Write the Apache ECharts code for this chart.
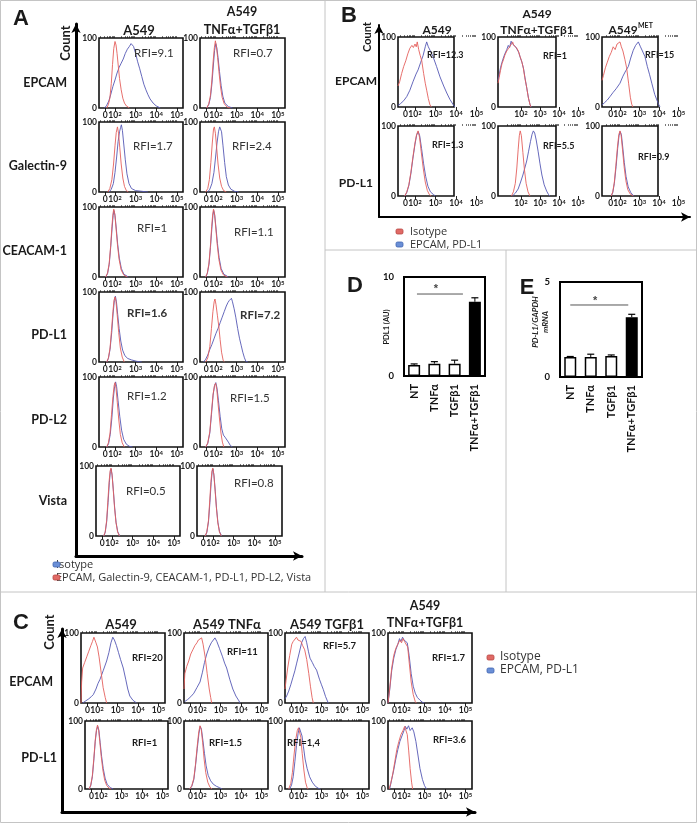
<!DOCTYPE html>
<html><head><meta charset="utf-8">
<script src="https://cdn.jsdelivr.net/npm/echarts@6/dist/echarts.min.js"></script>
<style>html,body{margin:0;padding:0;background:#fff}#c{width:697px;height:823px}</style>
</head><body><div id="c"></div>
<script>
// ---------------- DATA ----------------
const histTickLabels = ['0','10{s|2}','10{s|3}','10{s|4}','10{s|5}'];
const histTickValues = [1.53, 2, 3, 4, 5];
const countTickValues = [0, 100];

// Panel A (x in log-decade units, y = % of max count)
const a_epcam_a549_iso = [[1.6,0],[1.68,5],[1.75,14],[1.82,35],[1.88,62],[1.94,85],[2.0,95],[2.05,90],[2.1,78],[2.16,60],[2.22,42],[2.3,26],[2.38,14],[2.46,7],[2.55,3],[2.7,0]];
const a_epcam_a549_ab = [[1.5,0],[1.6,4],[1.7,10],[1.8,20],[1.9,31],[2.0,40],[2.1,50],[2.2,58],[2.3,64],[2.4,70],[2.5,78],[2.6,84],[2.7,88],[2.78,92],[2.84,94],[2.9,88],[3.0,78],[3.1,66],[3.2,56],[3.3,45],[3.4,34],[3.5,26],[3.6,19],[3.7,13],[3.85,7],[4.0,3],[4.2,0]];
const a_epcam_tt_iso = [[1.55,0],[1.65,6],[1.73,18],[1.8,40],[1.86,66],[1.92,86],[1.97,96],[2.02,88],[2.08,72],[2.15,50],[2.22,30],[2.3,15],[2.4,6],[2.55,1],[2.7,0]];
const a_epcam_tt_ab = [[1.55,0],[1.65,5],[1.73,15],[1.8,34],[1.87,60],[1.93,82],[1.99,92],[2.04,86],[2.1,72],[2.17,52],[2.25,32],[2.33,17],[2.43,7],[2.6,2],[2.8,0]];
const a_gal9_a549_iso = [[1.65,0],[1.75,5],[1.85,18],[1.93,40],[2.0,66],[2.06,85],[2.12,93],[2.17,84],[2.23,64],[2.3,40],[2.38,20],[2.46,8],[2.55,2],[2.65,0]];
const a_gal9_a549_ab = [[1.72,0],[1.82,4],[1.92,12],[2.0,28],[2.08,50],[2.15,72],[2.22,86],[2.27,92],[2.31,96],[2.36,88],[2.42,70],[2.5,46],[2.58,26],[2.68,12],[2.8,5],[3.0,2],[3.3,1],[3.6,0]];
const a_gal9_tt_iso = [[1.5,0],[1.6,5],[1.68,18],[1.75,42],[1.82,70],[1.88,90],[1.92,93],[1.97,84],[2.03,64],[2.1,40],[2.18,20],[2.27,8],[2.37,2],[2.5,0]];
const a_gal9_tt_ab = [[1.6,0],[1.7,4],[1.8,12],[1.9,28],[1.98,50],[2.05,70],[2.12,86],[2.18,93],[2.22,95],[2.27,86],[2.34,66],[2.42,42],[2.5,22],[2.6,10],[2.72,4],[2.9,1],[3.1,0]];
const a_ceacam_a549_iso = [[1.55,0],[1.64,6],[1.72,20],[1.79,45],[1.85,72],[1.9,90],[1.94,97],[1.99,90],[2.05,70],[2.12,46],[2.2,25],[2.3,10],[2.42,3],[2.6,0]];
const a_ceacam_a549_ab = [[1.55,0],[1.64,5],[1.72,18],[1.79,42],[1.86,70],[1.91,88],[1.95,95],[2.0,88],[2.06,70],[2.13,47],[2.21,27],[2.31,12],[2.43,4],[2.65,0]];
const a_ceacam_tt_iso = [[1.5,0],[1.58,6],[1.66,20],[1.73,45],[1.79,72],[1.84,90],[1.88,97],[1.93,90],[1.99,70],[2.06,46],[2.14,25],[2.24,10],[2.36,3],[2.55,0]];
const a_ceacam_tt_ab = [[1.5,0],[1.58,5],[1.66,18],[1.73,42],[1.8,70],[1.85,88],[1.89,95],[1.94,88],[2.0,70],[2.07,48],[2.15,28],[2.25,12],[2.38,4],[2.6,0]];
const a_pdl1_a549_iso = [[1.6,0],[1.68,6],[1.76,20],[1.83,45],[1.9,72],[1.95,88],[2.0,93],[2.05,86],[2.11,66],[2.18,42],[2.26,20],[2.35,7],[2.45,0]];
const a_pdl1_a549_ab = [[1.6,0],[1.68,5],[1.76,18],[1.84,42],[1.91,70],[1.97,88],[2.02,94],[2.07,86],[2.13,68],[2.2,48],[2.28,30],[2.37,17],[2.48,9],[2.62,5],[2.8,3],[3.05,1],[3.3,0]];
const a_pdl1_tt_iso = [[1.5,0],[1.6,6],[1.7,22],[1.78,48],[1.85,72],[1.91,86],[1.95,90],[2.0,82],[2.07,66],[2.14,50],[2.2,32],[2.27,14],[2.35,2],[2.42,0]];
const a_pdl1_tt_ab = [[1.4,0],[1.5,4],[1.6,10],[1.7,18],[1.8,25],[1.9,33],[2.0,41],[2.1,48],[2.2,56],[2.3,64],[2.4,72],[2.5,80],[2.58,85],[2.65,88],[2.7,90],[2.75,91],[2.8,86],[2.88,76],[2.96,64],[3.05,48],[3.14,34],[3.22,24],[3.3,14],[3.38,6],[3.45,1],[3.55,0]];
const a_pdl2_a549_iso = [[1.6,0],[1.68,6],[1.76,20],[1.83,46],[1.9,72],[1.96,88],[2.0,92],[2.05,84],[2.11,64],[2.18,40],[2.26,18],[2.35,6],[2.45,0]];
const a_pdl2_a549_ab = [[1.6,0],[1.69,5],[1.77,18],[1.85,42],[1.92,70],[1.98,86],[2.03,93],[2.08,86],[2.15,66],[2.23,44],[2.32,24],[2.42,11],[2.55,4],[2.7,1],[2.85,0]];
const a_pdl2_tt_iso = [[1.5,0],[1.6,6],[1.7,22],[1.78,50],[1.86,76],[1.93,88],[1.98,91],[2.04,82],[2.1,62],[2.17,40],[2.24,20],[2.31,7],[2.38,0]];
const a_pdl2_tt_ab = [[1.5,0],[1.6,5],[1.7,20],[1.78,46],[1.86,74],[1.93,88],[1.99,92],[2.05,84],[2.12,66],[2.2,44],[2.28,26],[2.36,17],[2.44,14],[2.52,12],[2.6,7],[2.7,2],[2.8,0]];
const a_vista_a549_iso = [[1.6,0],[1.67,6],[1.74,22],[1.8,50],[1.86,78],[1.91,93],[1.95,97],[2.0,88],[2.06,66],[2.12,42],[2.19,20],[2.27,6],[2.36,0]];
const a_vista_a549_ab = [[1.6,0],[1.67,5],[1.74,20],[1.81,48],[1.87,76],[1.92,92],[1.96,96],[2.01,86],[2.07,64],[2.13,40],[2.2,19],[2.28,6],[2.38,0]];
const a_vista_tt_iso = [[1.62,0],[1.7,6],[1.78,22],[1.84,50],[1.9,78],[1.95,93],[1.99,97],[2.04,88],[2.1,66],[2.16,42],[2.23,20],[2.31,6],[2.4,0]];
const a_vista_tt_ab = [[1.62,0],[1.7,5],[1.78,20],[1.85,48],[1.91,76],[1.96,92],[2.0,96],[2.05,86],[2.11,64],[2.17,40],[2.24,19],[2.32,6],[2.42,0]];

// Panel B
const b_epcam_a549_iso = [[1.17,30],[1.25,36],[1.35,48],[1.45,58],[1.55,66],[1.65,76],[1.75,84],[1.85,88],[1.92,85],[2.0,90],[2.06,86],[2.11,93],[2.18,82],[2.25,74],[2.33,66],[2.42,48],[2.5,34],[2.57,24],[2.65,12],[2.73,3],[2.8,0]];
const b_epcam_a549_ab = [[1.17,2],[1.3,5],[1.45,9],[1.6,15],[1.75,24],[1.9,36],[2.05,47],[2.15,53],[2.28,64],[2.4,74],[2.5,86],[2.57,93],[2.65,86],[2.75,80],[2.88,72],[3.05,58],[3.22,43],[3.4,30],[3.55,20],[3.7,11],[3.87,3],[3.95,0]];
const b_epcam_tt_iso = [[0.79,34],[0.85,42],[0.92,52],[1.0,62],[1.07,67],[1.15,74],[1.25,80],[1.35,84],[1.42,86],[1.5,90],[1.56,93],[1.62,88],[1.7,86],[1.78,84],[1.86,80],[1.95,72],[2.03,66],[2.12,56],[2.2,42],[2.3,28],[2.38,14],[2.47,4],[2.52,0]];
const b_epcam_tt_ab = [[0.79,38],[0.85,46],[0.92,56],[1.0,64],[1.07,70],[1.15,76],[1.25,82],[1.33,88],[1.4,85],[1.48,94],[1.55,90],[1.63,92],[1.72,86],[1.8,82],[1.88,78],[1.97,70],[2.05,64],[2.14,54],[2.22,40],[2.31,26],[2.4,12],[2.48,3],[2.55,0]];
const b_epcam_met_iso = [[1.08,38],[1.15,45],[1.25,56],[1.35,64],[1.45,72],[1.55,78],[1.65,86],[1.75,82],[1.85,90],[1.93,92],[2.0,93],[2.07,86],[2.15,80],[2.25,68],[2.34,56],[2.44,34],[2.53,14],[2.6,4],[2.66,0]];
const b_epcam_met_ab = [[1.08,3],[1.2,6],[1.35,10],[1.49,15],[1.65,21],[1.8,26],[2.0,34],[2.15,44],[2.3,52],[2.43,58],[2.55,70],[2.68,81],[2.8,88],[2.94,93],[3.05,86],[3.15,80],[3.28,72],[3.4,58],[3.52,46],[3.63,34],[3.78,18],[3.96,5],[4.05,0]];
const b_pdl1_a549_iso = [[1.5,0],[1.6,6],[1.7,16],[1.8,34],[1.9,56],[2.0,76],[2.08,88],[2.15,93],[2.22,84],[2.3,64],[2.4,40],[2.5,20],[2.6,8],[2.7,2],[2.8,0]];
const b_pdl1_a549_ab = [[1.5,0],[1.6,5],[1.7,15],[1.8,32],[1.9,54],[2.0,74],[2.08,87],[2.16,92],[2.23,86],[2.32,68],[2.42,46],[2.52,28],[2.63,14],[2.75,6],[2.9,2],[3.0,0]];
const b_pdl1_tt_iso = [[1.5,0],[1.6,6],[1.7,18],[1.78,40],[1.85,66],[1.91,86],[1.96,93],[2.02,86],[2.1,62],[2.18,38],[2.27,18],[2.37,6],[2.47,0]];
const b_pdl1_tt_ab = [[1.55,0],[1.7,4],[1.85,10],[1.98,20],[2.1,30],[2.2,40],[2.3,50],[2.4,64],[2.5,78],[2.58,88],[2.65,93],[2.72,90],[2.8,80],[2.9,64],[3.0,46],[3.1,30],[3.22,16],[3.35,7],[3.45,2],[3.53,0]];
const b_pdl1_met_iso = [[1.55,0],[1.63,6],[1.71,20],[1.79,44],[1.87,70],[1.94,88],[2.0,93],[2.06,86],[2.13,66],[2.21,42],[2.3,22],[2.4,9],[2.52,3],[2.68,0]];
const b_pdl1_met_ab = [[1.55,0],[1.63,5],[1.71,18],[1.8,42],[1.88,68],[1.95,86],[2.01,92],[2.07,88],[2.14,70],[2.22,48],[2.31,28],[2.42,13],[2.55,5],[2.7,0]];

// Panel C
const c_epcam_a549_iso = [[1.22,0],[1.25,30],[1.3,50],[1.4,58],[1.5,66],[1.6,74],[1.7,82],[1.78,88],[1.85,94],[1.9,90],[1.95,86],[2.02,80],[2.1,66],[2.2,44],[2.3,22],[2.4,8],[2.47,0]];
const c_epcam_a549_ab = [[1.3,0],[1.45,3],[1.6,6],[1.72,9],[1.82,12],[1.95,20],[2.05,28],[2.15,34],[2.3,46],[2.47,60],[2.58,72],[2.68,86],[2.77,94],[2.85,90],[2.95,82],[3.05,72],[3.15,62],[3.28,50],[3.4,34],[3.5,20],[3.6,10],[3.75,4],[3.93,0]];
const c_epcam_tnf_iso = [[1.22,20],[1.26,42],[1.35,52],[1.45,60],[1.55,70],[1.65,76],[1.75,82],[1.85,86],[1.92,90],[2.0,88],[2.08,93],[2.15,84],[2.25,66],[2.35,42],[2.45,20],[2.52,8],[2.57,0]];
const c_epcam_tnf_ab = [[1.25,2],[1.4,5],[1.55,9],[1.7,14],[1.85,22],[2.0,30],[2.12,44],[2.22,58],[2.33,70],[2.45,80],[2.55,86],[2.65,90],[2.73,93],[2.82,88],[2.95,78],[3.1,66],[3.2,57],[3.3,50],[3.45,34],[3.6,20],[3.75,10],[3.9,3],[3.95,0]];
const c_epcam_tgf_iso = [[1.22,20],[1.27,32],[1.35,50],[1.45,68],[1.55,84],[1.62,88],[1.7,86],[1.78,94],[1.85,90],[1.93,92],[2.0,88],[2.08,82],[2.18,76],[2.28,62],[2.38,42],[2.46,24],[2.54,8],[2.6,0]];
const c_epcam_tgf_ab = [[1.22,6],[1.3,10],[1.4,17],[1.5,26],[1.6,36],[1.7,46],[1.79,57],[1.9,70],[2.03,86],[2.12,92],[2.2,95],[2.28,86],[2.36,74],[2.44,64],[2.55,58],[2.65,52],[2.76,47],[2.9,34],[3.0,26],[3.09,19],[3.2,9],[3.33,0]];
const c_epcam_tt_iso = [[1.22,0],[1.3,20],[1.4,50],[1.5,68],[1.6,78],[1.7,84],[1.8,90],[1.88,86],[1.95,92],[2.02,88],[2.1,90],[2.18,80],[2.26,56],[2.35,30],[2.45,12],[2.55,2],[2.6,0]];
const c_epcam_tt_ab = [[1.22,0],[1.3,18],[1.4,46],[1.5,64],[1.6,76],[1.7,84],[1.78,92],[1.85,88],[1.93,94],[2.0,90],[2.08,92],[2.16,86],[2.25,68],[2.35,42],[2.45,24],[2.55,14],[2.65,8],[2.78,4],[2.9,1],[3.0,0]];
const c_pdl1_a549_iso = [[1.42,0],[1.5,6],[1.58,20],[1.65,45],[1.72,72],[1.78,88],[1.83,94],[1.88,88],[1.94,70],[2.01,48],[2.09,28],[2.18,13],[2.28,5],[2.4,1],[2.5,0]];
const c_pdl1_a549_ab = [[1.42,0],[1.5,5],[1.58,18],[1.65,42],[1.72,70],[1.78,86],[1.84,92],[1.9,86],[1.96,68],[2.03,48],[2.11,30],[2.2,16],[2.3,7],[2.45,2],[2.6,0]];
const c_pdl1_tnf_iso = [[1.5,0],[1.6,5],[1.7,16],[1.78,36],[1.86,62],[1.94,84],[2.0,93],[2.06,88],[2.13,68],[2.2,44],[2.28,24],[2.38,10],[2.48,3],[2.58,0]];
const c_pdl1_tnf_ab = [[1.5,0],[1.6,4],[1.7,14],[1.78,34],[1.87,60],[1.95,82],[2.01,92],[2.07,88],[2.14,72],[2.22,52],[2.3,34],[2.4,20],[2.52,12],[2.65,7],[2.8,4],[2.95,2],[3.07,0]];
const c_pdl1_tgf_iso = [[1.4,0],[1.5,8],[1.58,24],[1.66,50],[1.74,72],[1.82,86],[1.88,90],[1.93,88],[1.99,76],[2.06,52],[2.14,28],[2.22,10],[2.3,2],[2.35,0]];
const c_pdl1_tgf_ab = [[1.45,0],[1.54,6],[1.62,18],[1.7,40],[1.78,64],[1.86,82],[1.92,90],[1.98,88],[2.05,78],[2.12,62],[2.2,44],[2.3,30],[2.42,18],[2.55,10],[2.7,4],[2.85,1],[2.95,0]];
const c_pdl1_tt_iso = [[1.27,0],[1.35,8],[1.45,22],[1.55,40],[1.65,58],[1.75,70],[1.85,80],[1.95,86],[2.03,92],[2.1,94],[2.16,80],[2.23,56],[2.3,30],[2.37,10],[2.42,0]];
const c_pdl1_tt_ab = [[1.3,0],[1.4,14],[1.5,28],[1.6,44],[1.7,58],[1.8,70],[1.9,78],[2.0,86],[2.07,92],[2.14,88],[2.22,93],[2.3,86],[2.4,90],[2.48,84],[2.58,70],[2.68,50],[2.78,30],[2.9,14],[3.0,5],[3.1,0]];

// Bar charts D and E
const barCats = ['NT', 'TNFα', 'TGFβ1', 'TNFα+TGFβ1'];
const barPos = [0, 1, 2, 3];
const d_values = [1.1, 1.25, 1.25, 7.5];
const d_err = [0.12, 0.2, 0.35, 0.4];
const e_values = [1.05, 1.05, 1.1, 3.15];
const e_err = [0.03, 0.15, 0.06, 0.15];
const d_sig = [[0.14, 8.28], [2.41, 8.28]];
const e_sig = [[0.0, 3.79], [2.83, 3.79]];
const d_star = [[1.08, 8.75]];
const e_star = [[1.21, 3.98]];

// ---------------- STYLE / LAYOUT ----------------
const FONT = 'Lato, "Open Sans", sans-serif';
const RED = '#e4605c', BLUE = '#5558b4';
const grids = [], xAxes = [], yAxes = [], series = [], G = [];
function addGrid(g){ grids.push(g); return grids.length - 1; }
const minorTicks = [];
[1,2,3,4].forEach(d => { for (let k = 2; k <= 9; k++) minorTicks.push(d + Math.log10(k)); });
function labelFor(v){ const i = histTickValues.findIndex(t => Math.abs(t - v) < 1e-6); return i >= 0 ? histTickLabels[i] : ''; }
const tickRich = {s: {fontSize: 6, fontWeight: 'bold', fontFamily: FONT, color: '#222', verticalAlign: 'top', padding: [0, 0, 3, 0]}};

function histPanel(f, p2, dec, iso, ab){
  const [L, T, W, H] = f;
  const fg = addGrid({left: L, top: T, width: W, height: H, show: true, borderColor: '#111', borderWidth: 1.6, z: 3});
  xAxes.push({gridIndex: fg, show: false, min: 0, max: 1});
  yAxes.push({gridIndex: fg, show: false, min: 0, max: 1});
  const aw = Math.max(W, p2 + 3 * dec + 7);
  const ag = addGrid({left: L, top: T, width: aw, height: H});
  const xmin = 2 - p2 / dec, xmax = xmin + aw / dec;
  const xi = xAxes.length;
  xAxes.push({gridIndex: ag, type: 'value', min: xmin, max: xmax, axisLine: {show: false}, splitLine: {show: false},
    axisTick: {customValues: histTickValues, length: 3, lineStyle: {color: '#222', width: 1}},
    axisLabel: {customValues: histTickValues, formatter: labelFor, rich: tickRich, fontSize: 8.5, fontWeight: 'bold', fontFamily: FONT, color: '#222', margin: 3}});
  xAxes.push({gridIndex: ag, type: 'value', min: xmin, max: xmax, axisLine: {show: false}, splitLine: {show: false},
    axisTick: {customValues: minorTicks, length: 2, lineStyle: {color: '#555', width: 0.8}}, axisLabel: {show: false}});
  const yi = yAxes.length;
  yAxes.push({gridIndex: ag, type: 'value', min: 0, max: 100, axisLine: {show: false}, splitLine: {show: false}, axisTick: {show: false},
    axisLabel: {customValues: countTickValues, fontSize: 8.5, fontWeight: 'bold', fontFamily: FONT, color: '#222', margin: 2}});
  series.push({type: 'line', xAxisIndex: xi, yAxisIndex: yi, data: ab, showSymbol: false, silent: true, lineStyle: {color: BLUE, width: 0.9}, z: 4});
  series.push({type: 'line', xAxisIndex: xi, yAxisIndex: yi, data: iso, showSymbol: false, silent: true, lineStyle: {color: RED, width: 0.9}, z: 4});
}

function arrowFrame(L, T, W, H, lw){
  const g = addGrid({left: L, top: T, width: W, height: H});
  const ax = {gridIndex: g, type: 'value', min: 0, max: 1, axisTick: {show: false}, axisLabel: {show: false}, splitLine: {show: false},
    axisLine: {show: true, onZero: false, symbol: ['none', 'arrow'], symbolSize: [7, 9], lineStyle: {color: '#000', width: lw}}};
  xAxes.push(Object.assign({}, ax)); yAxes.push(Object.assign({}, ax));
}

function T(x, y, text, o){
  o = o || {};
  G.push({type: 'text', x: x, y: y, rotation: o.rot || 0, z: 100,
    style: {text: text, fill: o.color || '#1a1a1a', fontSize: o.s || 12, fontWeight: o.w || 'bold', fontStyle: o.it ? 'italic' : 'normal',
      fontFamily: o.f || FONT, align: o.a || 'center', verticalAlign: 'middle', lineHeight: o.lh || undefined}});
}
function Ln(x1, y1, x2, y2, c, w){ G.push({type: 'line', z: 1, shape: {x1, y1, x2, y2}, style: {stroke: c, lineWidth: w}}); }
function Mk(x, y, fill, stroke){ G.push({type: 'rect', z: 101, shape: {x: x, y: y, width: 7, height: 5, r: 1.5}, style: {fill: fill, stroke: stroke, lineWidth: 0.8}}); }

// ---- Panel A ----
const aRows = [38, 122, 207, 292, 377, 466];
const aData = [
  [a_epcam_a549_iso, a_epcam_a549_ab, a_epcam_tt_iso, a_epcam_tt_ab],
  [a_gal9_a549_iso, a_gal9_a549_ab, a_gal9_tt_iso, a_gal9_tt_ab],
  [a_ceacam_a549_iso, a_ceacam_a549_ab, a_ceacam_tt_iso, a_ceacam_tt_ab],
  [a_pdl1_a549_iso, a_pdl1_a549_ab, a_pdl1_tt_iso, a_pdl1_tt_ab],
  [a_pdl2_a549_iso, a_pdl2_a549_ab, a_pdl2_tt_iso, a_pdl2_tt_ab],
  [a_vista_a549_iso, a_vista_a549_ab, a_vista_tt_iso, a_vista_tt_ab]
];
aRows.forEach((top, r) => {
  const l1 = r === 5 ? 96 : 99, l2 = r === 5 ? 197 : 200;
  histPanel([l1, top, 84, 70], 16, 20.6, aData[r][0], aData[r][1]);
  histPanel([l2, top, 85, 70], 16, 20.6, aData[r][2], aData[r][3]);
});
arrowFrame(76, 24, 226, 532, 3);

// ---- Panel B ----
const bCols = [[398, 56, 17, 20.5], [498, 58, 23, 19], [602, 56, 18, 19.5]];
const bData = [
  [b_epcam_a549_iso, b_epcam_a549_ab, b_epcam_tt_iso, b_epcam_tt_ab, b_epcam_met_iso, b_epcam_met_ab],
  [b_pdl1_a549_iso, b_pdl1_a549_ab, b_pdl1_tt_iso, b_pdl1_tt_ab, b_pdl1_met_iso, b_pdl1_met_ab]
];
[37, 126].forEach((top, r) => {
  bCols.forEach((c, k) => histPanel([c[0], top, c[1], 70], c[2], c[3], bData[r][2*k], bData[r][2*k+1]));
});
arrowFrame(379, 25, 311, 192, 2);

// ---- Panel C ----
const cData = [
  [c_epcam_a549_iso, c_epcam_a549_ab, c_epcam_tnf_iso, c_epcam_tnf_ab, c_epcam_tgf_iso, c_epcam_tgf_ab, c_epcam_tt_iso, c_epcam_tt_ab],
  [c_pdl1_a549_iso, c_pdl1_a549_ab, c_pdl1_tnf_iso, c_pdl1_tnf_ab, c_pdl1_tgf_iso, c_pdl1_tgf_ab, c_pdl1_tt_iso, c_pdl1_tt_ab]
];
const cLeft = [[81, 184, 285, 388], [85, 184, 285, 388]];
[[633, 70], [721, 68]].forEach((rt, r) => {
  cLeft[r].forEach((l, k) => histPanel([l, rt[0], r === 1 && k === 0 ? 83 : 84, rt[1]], 16, 20.5, cData[r][2*k], cData[r][2*k+1]));
});
arrowFrame(62, 629, 413, 183, 3);

// ---- Bar charts D / E ----
function barPanel(box, ymax, vals, errs, sig, star, cats){
  const g = addGrid({left: box[0], top: box[1], width: box[2], height: box[3], show: true, borderColor: '#000', borderWidth: 2, z: 3});
  const xi = xAxes.length, yi = yAxes.length;
  xAxes.push({gridIndex: g, type: 'value', min: -0.5, max: 3.5, axisLine: {show: false}, axisTick: {show: false}, splitLine: {show: false},
    axisLabel: {customValues: barPos, formatter: v => cats[Math.round(v)], rotate: 90, fontSize: 11, fontWeight: 'bold', fontFamily: FONT, color: '#111', margin: 8}});
  yAxes.push({gridIndex: g, type: 'value', min: 0, max: ymax, axisLine: {show: false}, axisTick: {show: false}, splitLine: {show: false},
    axisLabel: {customValues: [0, ymax], fontSize: 9.5, fontWeight: 'bold', fontFamily: FONT, color: '#111', margin: 10}});
  series.push({type: 'bar', xAxisIndex: xi, yAxisIndex: yi, barWidth: 12, silent: true,
    data: vals.map((v, i) => ({value: [barPos[i], v], itemStyle: {color: i === 3 ? '#000' : '#fff', borderColor: '#000', borderWidth: 1.5}}))});
  series.push({type: 'custom', xAxisIndex: xi, yAxisIndex: yi, silent: true, z: 5,
    data: vals.map((v, i) => [barPos[i], v, v + errs[i]]),
    renderItem: (params, api) => {
      const a = api.coord([api.value(0), api.value(1)]), b = api.coord([api.value(0), api.value(2)]);
      return {type: 'group', children: [
        {type: 'line', shape: {x1: a[0], y1: a[1], x2: b[0], y2: b[1]}, style: {stroke: '#000', lineWidth: 1}},
        {type: 'line', shape: {x1: b[0] - 3.5, y1: b[1], x2: b[0] + 3.5, y2: b[1]}, style: {stroke: '#000', lineWidth: 1.2}}]};
    }});
  series.push({type: 'line', xAxisIndex: xi, yAxisIndex: yi, data: sig, showSymbol: false, silent: true, lineStyle: {color: '#555', width: 1}});
  series.push({type: 'scatter', xAxisIndex: xi, yAxisIndex: yi, data: star, symbolSize: 2, silent: true, z: 6,
    itemStyle: {color: 'rgba(0,0,0,0)'},
    label: {show: true, position: 'inside', formatter: '*', fontSize: 11, fontWeight: 'bold', color: '#111'}});
}
barPanel([404, 277, 81, 99], 10, d_values, d_err, d_sig, d_star, barCats);
barPanel([560, 282, 82, 95], 5, e_values, e_err, e_sig, e_star, barCats);

// ---------------- TEXT / DECORATION ----------------
G.push({type: 'rect', z: 0, shape: {x: 0.5, y: 0.5, width: 696, height: 822}, style: {fill: 'none', stroke: '#c4c4c4', lineWidth: 1}});
Ln(325, 0, 325, 592, '#c4c4c4', 1);
Ln(0, 592, 697, 592, '#c4c4c4', 1);
Ln(325, 250, 697, 250, '#c4c4c4', 1);
Ln(506, 250, 506, 592, '#c4c4c4', 1);

T(21, 19, 'A', {s: 22, f: '"Liberation Sans", Arial, sans-serif'});
T(349, 16, 'B', {s: 22, f: '"Liberation Sans", Arial, sans-serif'});
T(21, 623, 'C', {s: 22, f: '"Liberation Sans", Arial, sans-serif'});
T(355, 286, 'D', {s: 22, f: '"Liberation Sans", Arial, sans-serif'});
T(527, 288, 'E', {s: 22, f: '"Liberation Sans", Arial, sans-serif'});

// Panel A text
T(66, 43, 'Count', {s: 13, rot: Math.PI / 2});
T(139, 31, 'A549', {s: 13});
T(242, 12, 'A549', {s: 12.5});
T(242, 30, 'TNFα+TGFβ1', {s: 12.5});
[['EPCAM', 83], ['Galectin-9', 166], ['CEACAM-1', 251], ['PD-L1', 335], ['PD-L2', 420], ['Vista', 501]].forEach(r => T(67, r[1], r[0], {s: 12.5, a: 'right'}));
[['RFI=9.1', 134, 53, 0], ['RFI=0.7', 233, 53, 0], ['RFI=1.7', 133, 146, 0], ['RFI=2.4', 232, 146, 0],
 ['RFI=1', 137, 228, 0], ['RFI=1.1', 234, 232, 0], ['RFI=1.6', 127, 313, 1], ['RFI=7.2', 240, 315, 1],
 ['RFI=1.2', 127, 396, 0], ['RFI=1.5', 230, 398, 0], ['RFI=0.5', 126, 491, 0], ['RFI=0.8', 234, 483, 0]]
 .forEach(r => T(r[1], r[2], r[0], {s: 11.5, a: 'left', w: r[3] ? 'bold' : 'normal', color: '#333'}));
T(56, 565, 'Isotype', {s: 11, a: 'left', w: 'normal', color: '#333', f: '"Open Sans", sans-serif'});
T(56, 578, 'EPCAM, Galectin-9, CEACAM-1, PD-L1, PD-L2, Vista', {s: 11, a: 'left', w: 'normal', color: '#333', f: '"Open Sans", sans-serif'});
Mk(53, 562, '#6a8fd6', '#3f63b0');
Mk(53, 575, '#e06a66', '#b84440');

// Panel B text
T(367, 37, 'Count', {s: 11, rot: Math.PI / 2});
T(437, 30, 'A549', {s: 12});
T(537, 14, 'A549', {s: 12});
T(537, 30, 'TNFα+TGFβ1', {s: 12});
T(623, 30, 'A549', {s: 12});
T(638, 26, 'MET', {s: 7, a: 'left'});
T(377, 81, 'EPCAM', {s: 12, a: 'right'});
T(373, 183, 'PD-L1', {s: 12, a: 'right'});
[['RFI=12.3', 427, 55], ['RFI=1', 543, 56], ['RFI=15', 645, 55], ['RFI=1.3', 432, 145], ['RFI=5.5', 543, 146], ['RFI=0.9', 638, 157]]
 .forEach(r => T(r[1], r[2], r[0], {s: 9, a: 'left'}));
Mk(396, 229, '#e06a66', '#b84440');
Mk(396, 242, '#6a8fd6', '#3f63b0');
T(410, 232, 'Isotype', {s: 11, a: 'left', w: 'normal', color: '#333', f: '"Open Sans", sans-serif'});
T(410, 245, 'EPCAM, PD-L1', {s: 11, a: 'left', w: 'normal', color: '#333', f: '"Open Sans", sans-serif'});

// Panel C text
T(50, 632, 'Count', {s: 13, rot: Math.PI / 2});
T(121, 625, 'A549', {s: 13});
T(227, 625, 'A549 TNFα', {s: 13});
T(327, 625, 'A549 TGFβ1', {s: 13});
T(425, 606, 'A549', {s: 12.5});
T(425, 623, 'TNFα+TGFβ1', {s: 12.5});
T(53, 682, 'EPCAM', {s: 12.5, a: 'right'});
T(57, 758, 'PD-L1', {s: 12.5, a: 'right'});
[['RFI=20', 132, 658], ['RFI=11', 227, 652], ['RFI=5.7', 323, 646], ['RFI=1.7', 432, 658],
 ['RFI=1', 132, 743], ['RFI=1.5', 209, 743], ['RFI=1,4', 287, 743], ['RFI=3.6', 433, 740]]
 .forEach(r => T(r[1], r[2], r[0], {s: 9.5, a: 'left'}));
Mk(487, 655, '#e06a66', '#b84440');
Mk(487, 668, '#6a8fd6', '#3f63b0');
T(500, 657, 'Isotype', {s: 12, a: 'left', w: 'normal', color: '#333', f: '"Open Sans", sans-serif'});
T(500, 670, 'EPCAM, PD-L1', {s: 12, a: 'left', w: 'normal', color: '#333', f: '"Open Sans", sans-serif'});

T(387, 327, 'PDL1 (AU)', {s: 7.5, rot: Math.PI / 2});
T(540, 322, 'PD-L1/GAPDH\nmRNA', {s: 8, it: true, rot: Math.PI / 2, lh: 10});

const chart = echarts.init(document.getElementById('c'));
chart.setOption({
  animation: false,
  backgroundColor: '#fff',
  grid: grids, xAxis: xAxes, yAxis: yAxes, series: series, graphic: G
});
</script></body></html>
